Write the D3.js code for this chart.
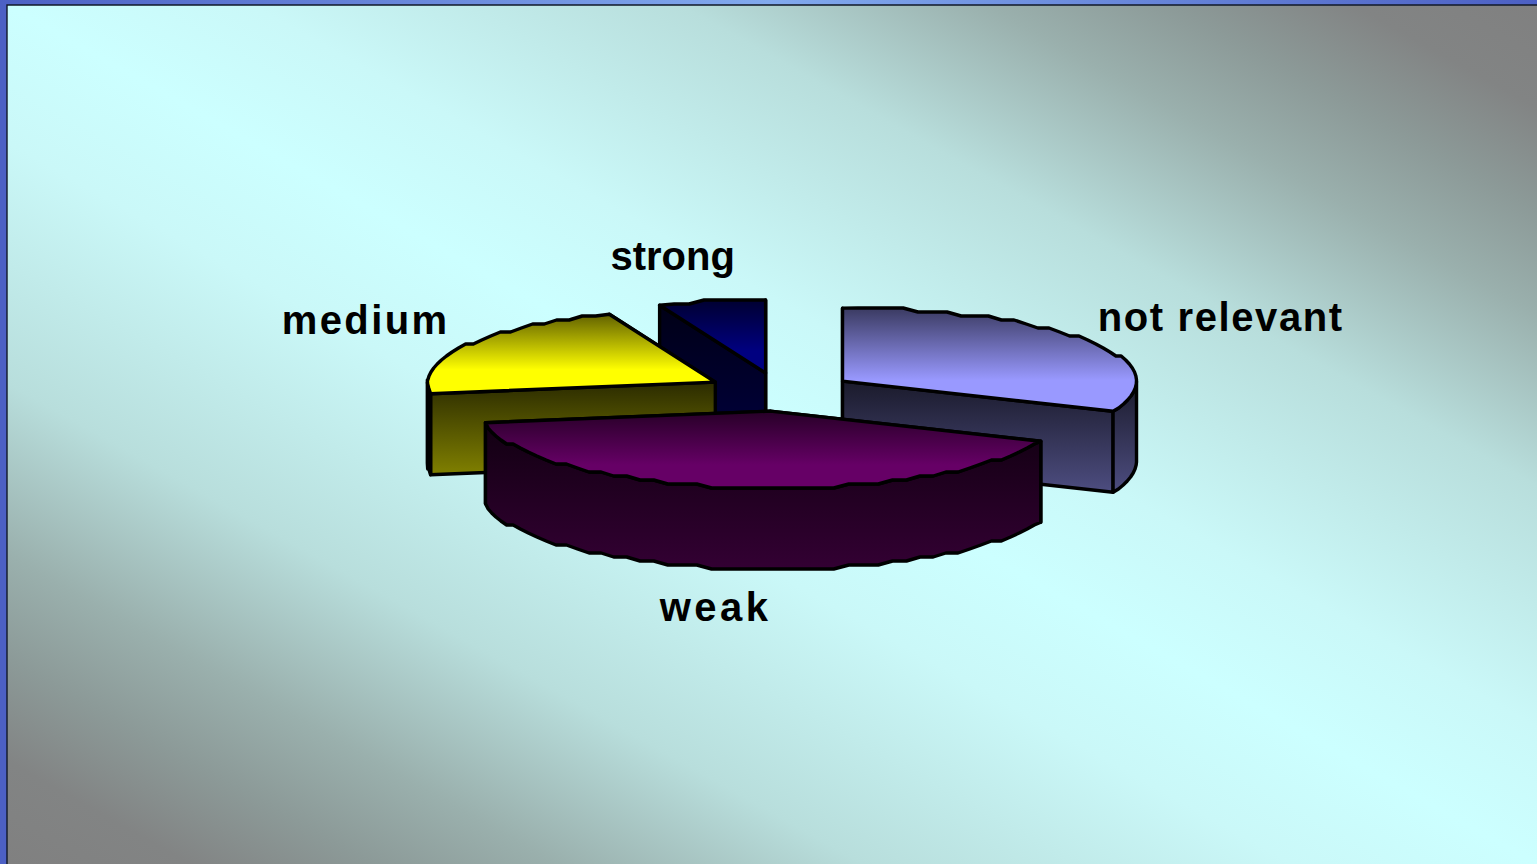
<!DOCTYPE html>
<html>
<head>
<meta charset="utf-8">
<script src="https://d3js.org/d3.v7.min.js"></script>
<style>
  html, body { margin: 0; padding: 0; overflow: hidden; background: #4c60c4; }
  svg { display: block; }
</style>
</head>
<body>
<div id="chart-area"></div>
<script>
// Chart data
var categories = ["not relevant", "weak", "medium", "strong"];
var values = [31.4, 41.2, 21.4, 6];
var baseColors = ["#9999ff", "#660066", "#ffff00", "#000080"];

var width = 1537, height = 864;

// Pie geometry
var cx = 779.5, cy = 391.5;
var rxRight = 294, rxLeft = 288, ryBack = 73, ryFront = 77;
var depth = 81;
var explode = 0.257;
var stroke = 3.4;

// Label offset from the outer middle of each slice, and letter spacing
var labelDx = [133, -18.5, -100, -39], labelDy = [-10, 133, -12, -31];
var labelSpacing = [1.6, 3.5, 2.4, 0];

var svg = d3.select("#chart-area")
    .append("svg")
        .attr("width", width)
        .attr("height", height);

var defs = svg.append("defs");

// Background: grey corners, wide cyan band along the diagonal
var bg = defs.append("linearGradient")
    .attr("id", "bg")
    .attr("x1", 1).attr("y1", 0).attr("x2", 0).attr("y2", 1);
var bgStops = [[0, "#808080"], [0.06, "#828484"], [0.12, "#8c9a98"], [0.18, "#9ab0ad"],
    [0.28, "#b8dedc"], [0.42, "#caf8f8"], [0.5, "#ccffff"], [0.58, "#caf8f8"],
    [0.72, "#b8dedc"], [0.82, "#9ab0ad"], [0.88, "#8c9a98"], [0.94, "#828484"], [1, "#808080"]];
bgStops.forEach(function(s) {
    bg.append("stop").attr("offset", s[0]).attr("stop-color", s[1]);
});

var topBar = defs.append("linearGradient").attr("id", "topBar");
topBar.append("stop").attr("offset", 0).attr("stop-color", "#4c60c4");
topBar.append("stop").attr("offset", 0.5).attr("stop-color", "#82aaee");
topBar.append("stop").attr("offset", 1).attr("stop-color", "#4c60c4");

svg.append("rect")
    .attr("width", width).attr("height", 5)
    .attr("fill", "url(#topBar)");

svg.append("rect")
    .attr("x", 7).attr("y", 5)
    .attr("width", width - 7).attr("height", height - 5)
    .attr("fill", "url(#bg)");

// Thin dark line round the slide
svg.append("path")
    .attr("d", "M7," + height + "V5H" + width)
    .attr("fill", "none")
    .attr("stroke", "#101828")
    .attr("stroke-width", 1.4);

// Colours
var color = d3.scaleOrdinal().domain(categories).range(baseColors);

function shade(c, k) {
    var r = d3.rgb(c);
    return d3.rgb(r.r * k, r.g * k, r.b * k).formatHex();
}

function addGradient(id, from, to, full) {
    var g = defs.append("linearGradient")
        .attr("id", id)
        .attr("x1", 0).attr("y1", 0).attr("x2", 0).attr("y2", 1);
    g.append("stop").attr("offset", 0).attr("stop-color", from);
    g.append("stop").attr("offset", full).attr("stop-color", to);
}

// Slices, clockwise from twelve o'clock
var arcs = d3.pie().sort(null).value(function(d) { return d; })(values);

// angle -> point on the ellipse, relative to the centre
function ell(a, r) {
    var c = Math.cos(a), s = Math.sin(a);
    return [(s > 0 ? rxRight : rxLeft) * r * s, -(c > 0 ? ryBack : ryFront) * r * c];
}

// The outer edge of the reference is a coarse polyline, so snap it to a grid
function outerEdge(a0, a1, ox, oy) {
    var n = Math.max(1, Math.round((a1 - a0) / (3 * Math.PI / 180)));
    var pts = [];
    d3.range(n + 1).forEach(function(i) {
        var p = ell(a0 + (a1 - a0) * i / n, 1);
        var px = p[0] + ox, py = p[1] + oy;
        if (i > 0 && i < n) {
            py = Math.round(py / 4) * 4;
        }
        pts.push([px, py]);
    });
    return pts;
}

var line = d3.line();

function poly(pts) { return line(pts) + "Z"; }

function shifted(pts) {
    return pts.map(function(p) { return [p[0], p[1] + depth]; });
}

var slices = arcs.map(function(d, i) {
    var mid = (d.startAngle + d.endAngle) / 2;
    var off = ell(mid, explode);
    return {
        i: i,
        name: categories[i],
        a0: d.startAngle,
        a1: d.endAngle,
        mid: mid,
        ox: cx + off[0],
        oy: cy + off[1]
    };
});

var chart = svg.append("g")
    .attr("stroke", "#000")
    .attr("stroke-width", stroke)
    .attr("stroke-linejoin", "round");

// Back slices first, the front one last
var drawOrder = [3, 2, 0, 1];

drawOrder.forEach(function(idx) {
    var s = slices[idx];
    var base = color(s.name);
    addGradient("top" + idx, shade(base, 0.38), base, 0.7);
    addGradient("side" + idx, shade(base, 0.17), shade(base, 0.5), 1);

    var g = chart.append("g");
    var apex = [s.ox, s.oy];
    var edge = outerEdge(s.a0, s.a1, s.ox, s.oy);

    // Radial walls, the one further back first
    var walls = [edge[0], edge[edge.length - 1]]
        .sort(function(a, b) { return a[1] - b[1]; });
    walls.forEach(function(p) {
        g.append("path")
            .attr("d", poly([apex, p, [p[0], p[1] + depth], [apex[0], apex[1] + depth]]))
            .attr("fill", "url(#side" + idx + ")");
    });

    // Outer wall, only the part turned towards the viewer
    var a0 = Math.max(s.a0, Math.PI / 2), a1 = Math.min(s.a1, 3 * Math.PI / 2);
    if (a1 > a0) {
        var front = outerEdge(a0, a1, s.ox, s.oy);
        g.append("path")
            .attr("d", poly(front.concat(shifted(front).reverse())))
            .attr("fill", "url(#side" + idx + ")");
    }

    // Top face
    g.append("path")
        .attr("d", poly([apex].concat(edge)))
        .attr("fill", "url(#top" + idx + ")");
});

// Labels
svg.append("g").selectAll("text")
    .data(slices)
    .enter()
    .append("text")
        .attr("x", function(s) { return s.ox + ell(s.mid, 1)[0] + labelDx[s.i]; })
        .attr("y", function(s) { return s.oy + ell(s.mid, 1)[1] + labelDy[s.i]; })
        .attr("text-anchor", "middle")
        .attr("font-family", "'Liberation Sans', Arial, sans-serif")
        .attr("font-weight", "bold")
        .attr("font-size", "40px")
        .attr("letter-spacing", function(s) { return labelSpacing[s.i]; })
        .attr("fill", "#000")
        .text(function(s) { return s.name; });
</script>
</body>
</html>
